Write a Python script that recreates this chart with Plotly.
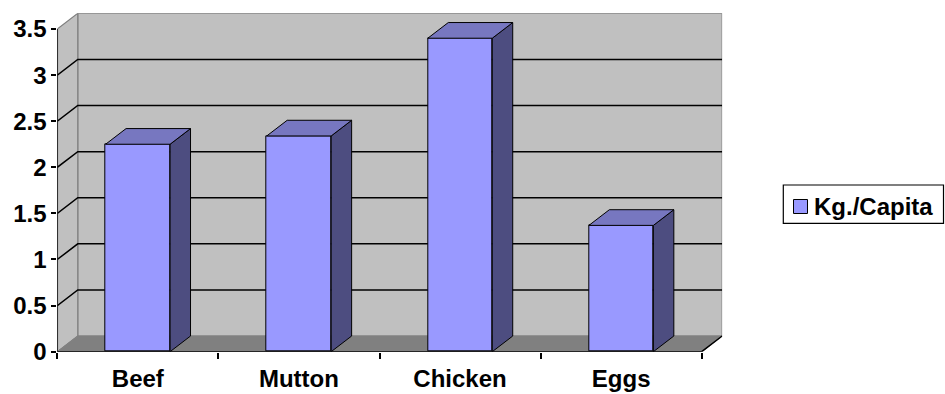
import plotly.graph_objects as go

# Data
categories = ["Beef", "Mutton", "Chicken", "Eggs"]
kg_per_capita = [2.25, 2.34, 3.4, 1.37]
y_ticks = [0, 0.5, 1, 1.5, 2, 2.5, 3, 3.5]
y_tick_labels = ["0", "0.5", "1", "1.5", "2", "2.5", "3", "3.5"]
series_name = "Kg./Capita"

# Styling / pseudo-3D geometry (depth offset in axis units)
W, H = 945, 394
DX, DY = 0.127, 0.17
BAR_W = 0.4
Y_MAX = 3.5
FRONT = "#9999FF"
TOP = "#7777C0"
SIDE = "#4D4D80"
WALL = "#C0C0C0"
FLOOR = "#808080"
EDGE = "#808080"
FONT = dict(family="Arial, Liberation Sans, sans-serif", size=24, color="black", weight="bold")

n = len(categories)
x0, x1 = -0.5, n - 0.5
xs = list(range(n))


def px_x(p):
    return p / W


def px_y(p):
    return 1 - p / H


def poly(points):
    return "M " + " L ".join(f"{a},{b}" for a, b in points) + " Z"


shapes = []
# back wall
shapes.append(dict(type="rect", xref="x", yref="y", layer="below",
                   x0=x0 + DX, x1=x1 + DX, y0=DY, y1=Y_MAX + DY,
                   fillcolor=WALL, line=dict(color=EDGE, width=1.2)))
# side wall
shapes.append(dict(type="path", xref="x", yref="y", layer="below",
                   path=poly([(x0, 0), (x0, Y_MAX), (x0 + DX, Y_MAX + DY), (x0 + DX, DY)]),
                   fillcolor=WALL, line=dict(color=EDGE, width=1.2)))
# floor
shapes.append(dict(type="path", xref="x", yref="y", layer="below",
                   path=poly([(x0, 0), (x0 + DX, DY), (x1 + DX, DY), (x1, 0)]),
                   fillcolor=FLOOR, line=dict(color=EDGE, width=1)))
# gridlines: across the side wall, then along the back wall
for v in y_ticks[1:-1]:
    shapes.append(dict(type="path", xref="x", yref="y", layer="below",
                       path=f"M {x0},{v} L {x0 + DX},{v + DY} L {x1 + DX},{v + DY}",
                       line=dict(color="black", width=1.5)))
# front value axis and floor front / right edges
shapes.append(dict(type="line", xref="x", yref="y", x0=x0, x1=x0, y0=0, y1=Y_MAX,
                   line=dict(color="black", width=1.5), layer="below"))
shapes.append(dict(type="path", xref="x", yref="y", layer="below",
                   path=f"M {x0},0 L {x1},0 L {x1 + DX},{DY}",
                   line=dict(color="black", width=1.5)))

# legend drawn as a framed key
lx0, lx1, ly0, ly1 = 783.3, 943.5, 185, 223.3
shapes.append(dict(type="rect", xref="paper", yref="paper",
                   x0=px_x(lx0), x1=px_x(lx1), y0=px_y(ly1), y1=px_y(ly0),
                   line=dict(color="black", width=1.2), fillcolor="white"))
shapes.append(dict(type="rect", xref="paper", yref="paper",
                   x0=px_x(793.5), x1=px_x(807.5), y0=px_y(213.5), y1=px_y(199.5),
                   line=dict(color="black", width=1), fillcolor=FRONT))

fig = go.Figure()

# top and side faces of each column
for xc, v in zip(xs, kg_per_capita):
    xl, xr = xc - BAR_W / 2, xc + BAR_W / 2
    fig.add_trace(go.Scatter(
        x=[xr, xr + DX, xr + DX, xr, xr], y=[0, DY, v + DY, v, 0],
        mode="lines", fill="toself", fillcolor=SIDE,
        line=dict(color="black", width=1), showlegend=False, hoverinfo="skip"))
    fig.add_trace(go.Scatter(
        x=[xl, xl + DX, xr + DX, xr, xl], y=[v, v + DY, v + DY, v, v],
        mode="lines", fill="toself", fillcolor=TOP,
        line=dict(color="black", width=1), showlegend=False, hoverinfo="skip"))

# front faces
fig.add_trace(go.Bar(x=xs, y=kg_per_capita, width=BAR_W, name=series_name,
                     marker=dict(color=FRONT, line=dict(color="black", width=1)),
                     showlegend=False))

fig.add_annotation(xref="paper", yref="paper", x=px_x(812), y=px_y(206.5),
                   xanchor="left", yanchor="middle", text=series_name,
                   showarrow=False, font=FONT)

# secondary axis carrying only the category boundary tick marks
fig.add_trace(go.Scatter(x=[x0], y=[0], xaxis="x2", mode="markers",
                         marker=dict(opacity=0), showlegend=False, hoverinfo="skip"))

xdom = [px_x(57.3), px_x(57.3 + (x1 + DX - x0) * 161.1)]
ydom = [px_y(351.7), px_y(351.7 - (Y_MAX + DY) * 92.2)]

fig.update_layout(
    width=W, height=H,
    margin=dict(l=0, r=0, t=0, b=0),
    paper_bgcolor="white", plot_bgcolor="rgba(0,0,0,0)",
    shapes=shapes, showlegend=False,
    font=FONT,
    xaxis=dict(domain=xdom, range=[x0, x1 + DX], tickmode="array",
               tickvals=xs, ticktext=categories, ticks="", showgrid=False,
               zeroline=False, showline=False, automargin=False,
               tickfont=FONT, ticklabelstandoff=10, fixedrange=True),
    xaxis2=dict(domain=xdom, range=[x0, x1 + DX], overlaying="x", anchor="y",
                side="bottom", tickmode="array",
                tickvals=[x0 + i for i in range(n + 1)], ticks="outside",
                ticklen=6, tickwidth=1.5, tickcolor="black",
                showticklabels=False, showgrid=False, zeroline=False,
                showline=False, automargin=False, fixedrange=True),
    yaxis=dict(domain=ydom, range=[0, Y_MAX + DY], tickmode="array",
               tickvals=y_ticks, ticktext=y_tick_labels, ticks="outside",
               ticklen=5, tickwidth=1.5, tickcolor="black", showgrid=False,
               zeroline=False, showline=False, automargin=False,
               tickfont=FONT, fixedrange=True),
    bargap=0,
)

fig.write_html("out.html", config={"displayModeBar": False})
